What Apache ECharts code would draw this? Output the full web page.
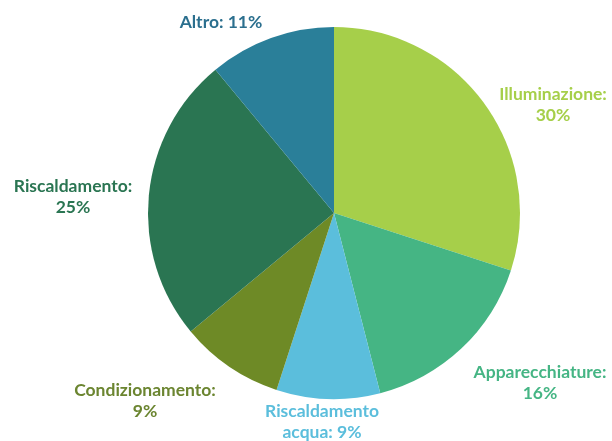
<!DOCTYPE html>
<html>
<head>
<meta charset="utf-8">
<script src="https://cdn.jsdelivr.net/npm/echarts@6/dist/echarts.min.js"></script>
<style>
html,body{margin:0;padding:0;background:#fff;}
#chart{width:612px;height:441px;}
</style>
</head>
<body>
<div id="chart"></div>
<script>
const categories = ['Illuminazione', 'Apparecchiature', 'Riscaldamento\nacqua', 'Condizionamento', 'Riscaldamento', 'Altro'];
const values = [30, 16, 9, 9, 25, 11];
const colors = ['#A6CF4A', '#45B584', '#5BBEDC', '#6E8A26', '#2A7552', '#2A7F99'];
const labelColors = ['#A6CF4A', '#45B584', '#5BBEDC', '#6B8530', '#2A7552', '#2B6F8E'];
const labelTexts = ['Illuminazione:\n30%', 'Apparecchiature:\n16%', 'Riscaldamento\nacqua: 9%', 'Condizionamento:\n9%', 'Riscaldamento:\n25%', 'Altro: 11%'];
const labelPos = [[553, 105], [540, 383], [322, 422], [145, 401], [73, 197], [221, 22]];

const chart = echarts.init(document.getElementById('chart'));
chart.setOption({
  animation: false,
  series: [{
    type: 'pie',
    center: [334, 213],
    radius: 186,
    startAngle: 90,
    clockwise: true,
    data: categories.map((c, i) => ({
      name: c,
      value: values[i],
      itemStyle: { color: colors[i] },
      label: { color: labelColors[i], formatter: labelTexts[i] }
    })),
    label: {
      show: true,
      position: 'outside',
      fontFamily: 'Lato',
      fontWeight: 'bold',
      fontSize: 17.5,
      lineHeight: 21,
      align: 'center',
      overflow: 'none',
      width: 220
    },
    labelLine: { show: false },
    labelLayout: function (params) {
      const p = labelPos[params.dataIndex];
      return { x: p[0], y: p[1], align: 'center', verticalAlign: 'middle' };
    },
    emphasis: { disabled: true }
  }]
});
</script>
</body>
</html>
